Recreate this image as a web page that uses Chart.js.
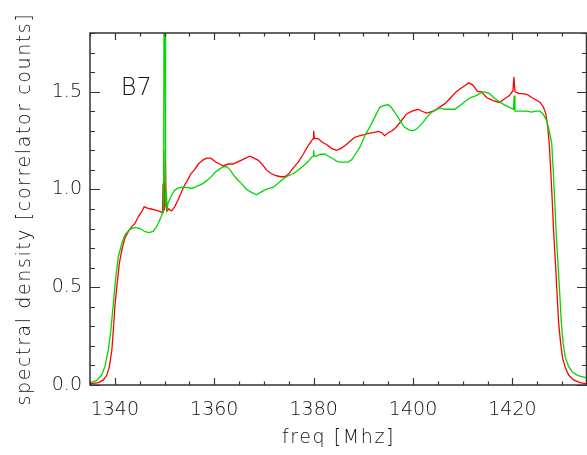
<!DOCTYPE html>
<html><head><meta charset="utf-8">
<script src="https://cdn.jsdelivr.net/npm/chart.js@4.4.0/dist/chart.umd.min.js"></script>
<style>html,body{margin:0;padding:0;background:#fff;overflow:hidden}#wrap{width:587px;height:455px;position:relative}</style>
</head><body><div id="wrap"><canvas id="c"></canvas></div>
<script>
const xTickLabels = [1340, 1360, 1380, 1400, 1420];
const yTickLabels = [0.0, 0.5, 1.0, 1.5];
const xTitle = "freq [Mhz]";
const yTitle = "spectral density [correlator counts]";
const panelLabel = "B7";

const redFreq = [1335.0,1336.7,1337.7,1338.4,1338.9,1339.4,1339.7,1340.0,1340.4,1340.9,1341.4,1342.0,1342.7,1343.4,1344.05,1344.7,1345.4,1345.9,1346.7,1347.3,1348.0,1348.7,1349.3,1349.6,1349.7,1349.8,1350.0,1350.15,1350.3,1350.5,1350.8,1351.4,1352.0,1352.6,1353.3,1354.0,1354.7,1355.3,1356.0,1356.8,1357.7,1358.5,1359.3,1360.3,1361.1,1361.8,1362.8,1363.8,1364.6,1365.5,1366.3,1367.2,1368.0,1368.8,1369.6,1370.5,1371.5,1372.5,1373.4,1374.2,1375.0,1375.9,1376.9,1377.9,1378.8,1379.6,1379.9,1380.0,1380.15,1380.9,1381.8,1382.6,1383.6,1384.6,1385.5,1386.6,1387.5,1388.3,1389.3,1390.2,1391.0,1392.0,1393.0,1393.7,1394.3,1395.0,1395.8,1396.6,1397.6,1398.7,1399.8,1401.0,1401.8,1402.7,1403.4,1404.0,1404.7,1405.6,1406.5,1407.6,1408.7,1409.5,1410.4,1411.2,1412.0,1413.0,1413.7,1414.8,1416.1,1417.4,1418.5,1419.4,1420.1,1420.3,1420.5,1421.3,1422.1,1423.0,1423.9,1424.6,1425.5,1426.2,1426.7,1427.1,1427.4,1427.7,1428.0,1428.3,1428.7,1429.0,1429.3,1429.7,1430.1,1430.7,1431.3,1432.3,1433.6,1435.0];
const redVal = [0.006,0.012,0.026,0.051,0.094,0.179,0.281,0.40,0.503,0.622,0.69,0.75,0.784,0.81,0.826,0.86,0.886,0.911,0.903,0.90,0.895,0.89,0.885,0.88,1.03,0.89,0.90,1.20,0.92,0.89,0.90,0.89,0.91,0.94,0.98,1.02,1.05,1.08,1.10,1.13,1.15,1.16,1.16,1.14,1.13,1.12,1.13,1.13,1.14,1.15,1.16,1.17,1.16,1.15,1.13,1.10,1.08,1.07,1.065,1.065,1.08,1.11,1.14,1.18,1.22,1.25,1.26,1.30,1.26,1.26,1.24,1.23,1.21,1.20,1.21,1.23,1.25,1.267,1.275,1.28,1.287,1.29,1.297,1.29,1.275,1.29,1.30,1.318,1.35,1.386,1.40,1.41,1.40,1.39,1.395,1.40,1.41,1.425,1.44,1.47,1.50,1.515,1.53,1.545,1.535,1.50,1.50,1.47,1.454,1.445,1.465,1.48,1.505,1.575,1.50,1.49,1.49,1.485,1.47,1.46,1.447,1.423,1.389,1.32,1.236,1.10,0.946,0.776,0.605,0.451,0.315,0.213,0.136,0.085,0.051,0.026,0.012,0.006];

const greenFreq = [1335.0,1336.3,1337.35,1338.0,1338.7,1339.2,1339.7,1340.2,1340.7,1341.4,1342.0,1343.0,1344.05,1345.1,1346.1,1346.9,1347.7,1348.3,1348.8,1349.3,1349.6,1349.8,1349.9,1350.0,1350.1,1350.2,1350.35,1350.5,1350.7,1351.3,1352.0,1352.6,1353.3,1354.0,1354.7,1355.3,1356.0,1356.8,1357.7,1358.5,1359.3,1360.3,1361.1,1361.8,1362.5,1363.2,1364.0,1364.5,1365.5,1366.5,1367.5,1368.5,1369.3,1370.2,1371.0,1371.8,1372.8,1373.9,1374.9,1375.9,1376.9,1377.9,1378.8,1379.6,1379.95,1380.0,1380.1,1380.6,1381.4,1382.2,1383.0,1383.9,1384.6,1385.3,1386.1,1386.9,1387.6,1388.4,1389.3,1390.3,1391.3,1392.3,1393.3,1394.2,1395.0,1395.6,1396.3,1397.2,1398.3,1399.2,1400.0,1400.8,1402.0,1402.8,1403.7,1404.5,1405.4,1406.4,1407.4,1408.4,1409.5,1410.7,1411.6,1412.7,1413.4,1414.1,1415.4,1416.2,1417.1,1418.2,1419.4,1420.2,1420.35,1420.5,1421.5,1422.8,1423.9,1424.6,1425.5,1426.2,1426.9,1427.4,1427.9,1428.2,1428.5,1428.8,1429.2,1429.55,1429.85,1430.2,1430.65,1431.3,1432.1,1433.2,1435.0];
const greenVal = [0.012,0.022,0.051,0.094,0.179,0.281,0.418,0.554,0.656,0.724,0.767,0.796,0.806,0.80,0.784,0.779,0.785,0.805,0.83,0.86,0.88,0.90,1.95,2.0,1.95,0.92,1.0,0.90,0.93,0.965,0.995,1.005,1.01,1.01,1.01,1.005,1.01,1.02,1.03,1.045,1.063,1.09,1.105,1.115,1.117,1.10,1.07,1.055,1.03,1.00,0.985,0.973,0.985,0.998,1.005,1.01,1.03,1.055,1.07,1.08,1.10,1.12,1.14,1.165,1.17,1.20,1.17,1.17,1.18,1.18,1.17,1.157,1.145,1.14,1.14,1.14,1.15,1.18,1.216,1.275,1.32,1.37,1.42,1.43,1.433,1.42,1.395,1.36,1.318,1.305,1.30,1.31,1.343,1.37,1.394,1.405,1.417,1.41,1.41,1.41,1.43,1.455,1.47,1.48,1.49,1.50,1.49,1.47,1.454,1.435,1.42,1.41,1.48,1.40,1.40,1.40,1.395,1.40,1.40,1.385,1.35,1.30,1.236,1.10,0.946,0.776,0.605,0.451,0.315,0.213,0.14,0.095,0.065,0.048,0.036];

const toPts = (fs, vs) => fs.map((f, i) => ({x: f, y: vs[i]}));
const AXIS_COLOR = '#333333';
const TEXT_COLOR = '#111111';
const FONT_FAMILY = '"DejaVu Sans", sans-serif';

const framePlugin = {
  id: 'idlFrame',
  afterDraw(chart) {
    const {ctx, chartArea: a, scales: {x, y}} = chart;
    ctx.save();
    ctx.strokeStyle = AXIS_COLOR;
    ctx.lineWidth = 1.5;
    ctx.strokeRect(a.left, a.top, a.right - a.left - 0.5, a.bottom - a.top);
    ctx.lineWidth = 1.2;
    ctx.beginPath();
    for (let v = x.min; v <= x.max + 1e-6; v += 5) {
      const px = Math.round(x.getPixelForValue(v)) + 0.5;
      const major = xTickLabels.some(t => Math.abs(t - v) < 1e-6);
      const len = major ? 7 : 3.5;
      ctx.moveTo(px, a.bottom); ctx.lineTo(px, a.bottom - len);
      ctx.moveTo(px, a.top); ctx.lineTo(px, a.top + len);
    }
    for (let v = y.min; v <= y.max + 1e-6; v += 0.1) {
      const py = Math.round(y.getPixelForValue(v)) + 0.5;
      const major = yTickLabels.some(t => Math.abs(t - v) < 1e-6);
      const len = major ? 10 : 5;
      ctx.moveTo(a.left, py); ctx.lineTo(a.left + len, py);
      ctx.moveTo(a.right, py); ctx.lineTo(a.right - len, py);
    }
    ctx.stroke();

    ctx.fillStyle = TEXT_COLOR;
    ctx.textBaseline = 'middle';
    ctx.textAlign = 'center';
    ctx.font = '200 19px ' + FONT_FAMILY;
    try { ctx.letterSpacing = '1.6px'; } catch (e) {}
    ctx.fillText(xTitle, (a.left + a.right) / 2, 438);
    ctx.save();
    ctx.translate(25, (a.top + a.bottom) / 2);
    ctx.rotate(-Math.PI / 2);
    ctx.fillText(yTitle, 0, 0);
    ctx.restore();
    try { ctx.letterSpacing = '0px'; } catch (e) {}
    ctx.font = '200 24px ' + FONT_FAMILY;
    ctx.textAlign = 'left';
    ctx.fillText(panelLabel, x.getPixelForValue(1341.2), y.getPixelForValue(1.515));
    ctx.restore();
  }
};

new Chart(document.getElementById('c'), {
  type: 'scatter',
  data: {
    datasets: [
      {label: 'green', data: toPts(greenFreq, greenVal), showLine: true, borderColor: 'rgb(0,215,0)', borderWidth: 1.3, pointRadius: 0, tension: 0, fill: false},
      {label: 'red', data: toPts(redFreq, redVal), showLine: true, borderColor: 'rgb(255,0,0)', borderWidth: 1.3, pointRadius: 0, tension: 0, fill: false}
    ]
  },
  options: {
    responsive: true,
    maintainAspectRatio: false,
    animation: false,
    layout: {padding: {top: 33, right: 0, left: 0, bottom: 0}},
    plugins: {legend: {display: false}, tooltip: {enabled: false}, title: {display: false}},
    scales: {
      x: {
        type: 'linear', min: 1335, max: 1435,
        afterBuildTicks: s => { s.ticks = xTickLabels.map(v => ({value: v})); },
        afterFit: s => { s.height = 70; },
        ticks: {color: TEXT_COLOR, font: {family: FONT_FAMILY, size: 19, weight: 200}, padding: 14, maxRotation: 0, autoSkip: false, callback: v => String(v)},
        grid: {display: false, drawTicks: false},
        border: {display: false}
      },
      y: {
        type: 'linear', min: 0, max: 1.8,
        afterBuildTicks: s => { s.ticks = yTickLabels.map(v => ({value: v})); },
        afterFit: s => { s.width = 90; },
        ticks: {color: TEXT_COLOR, font: {family: FONT_FAMILY, size: 19, weight: 200}, padding: 8, autoSkip: false, callback: v => Number(v).toFixed(1)},
        grid: {display: false, drawTicks: false},
        border: {display: false}
      }
    }
  },
  plugins: [framePlugin]
});
</script>
</body></html>
